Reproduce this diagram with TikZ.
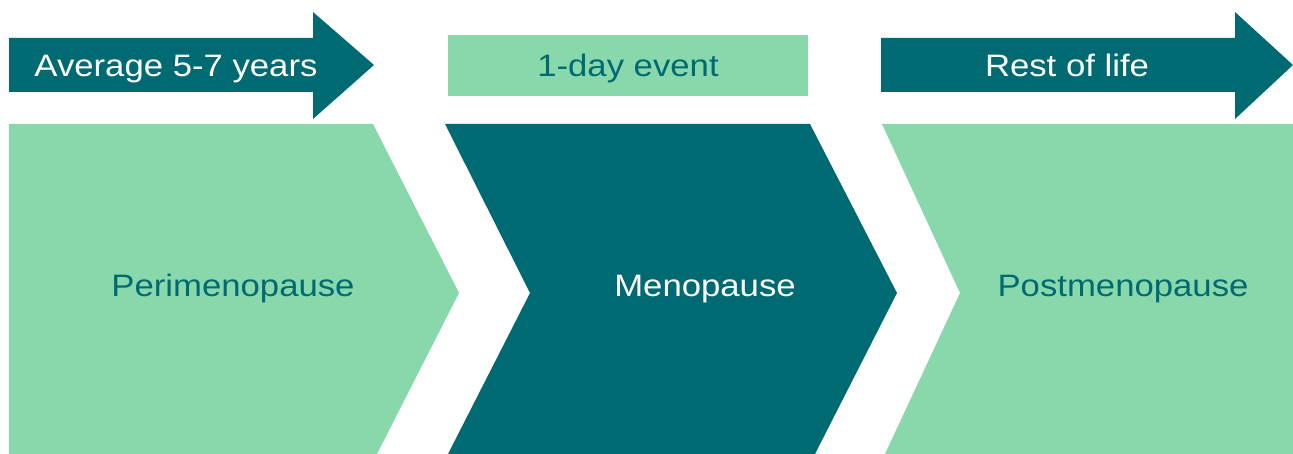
\documentclass[tikz,border=0pt]{standalone}
\usepackage{fontspec}
\setmainfont{Liberation Sans}[FakeStretch=1.12]
\usepackage{tikz}
\usetikzlibrary{positioning}
\definecolor{deepteal}{HTML}{006A72}
\definecolor{mint}{HTML}{88D8AB}

\begin{document}
\begin{tikzpicture}[x=1pt,y=-1pt,
  darkfill/.style={fill=deepteal,draw=none},
  lightfill/.style={fill=mint,draw=none},
  label/.style={font=\fontsize{31}{36}\selectfont,anchor=base,inner sep=0pt}]
  \useasboundingbox (0,0) rectangle (1293,454);
  % top row: arrows and event bar
  \fill[darkfill] (9,38) -- (313,38) -- (313,12) -- (374,65) -- (313,119) -- (313,92) -- (9,92) -- cycle;
  \fill[lightfill] (448,35) rectangle (808,96);
  \fill[darkfill] (881,38) -- (1235,38) -- (1235,12) -- (1293,65) -- (1235,119) -- (1235,92) -- (881,92) -- cycle;
  \node[label,text=white] (avg) at (176,77) {Average 5-7 years};
  \node[label,text=deepteal] (day) at (628,77) {1-day event};
  \node[label,text=white] (rest) at (1067,77) {Rest of life};
  % bottom row: chevrons
  \fill[lightfill] (9,124) -- (373,124) -- (459,293) -- (377,454) -- (9,454) -- cycle;
  \fill[darkfill] (445,124) -- (810,124) -- (897,293) -- (815,454) -- (448,454) -- (530,293) -- cycle;
  \fill[lightfill] (882,124) -- (1293,124) -- (1293,454) -- (885,454) -- (960,293) -- cycle;
  \node[label,text=deepteal] (peri) at (233,297) {Perimenopause};
  \node[label,text=white] (meno) at (705,297) {Menopause};
  \node[label,text=deepteal] (post) at (1123,297) {Postmenopause};
\end{tikzpicture}
\end{document}
